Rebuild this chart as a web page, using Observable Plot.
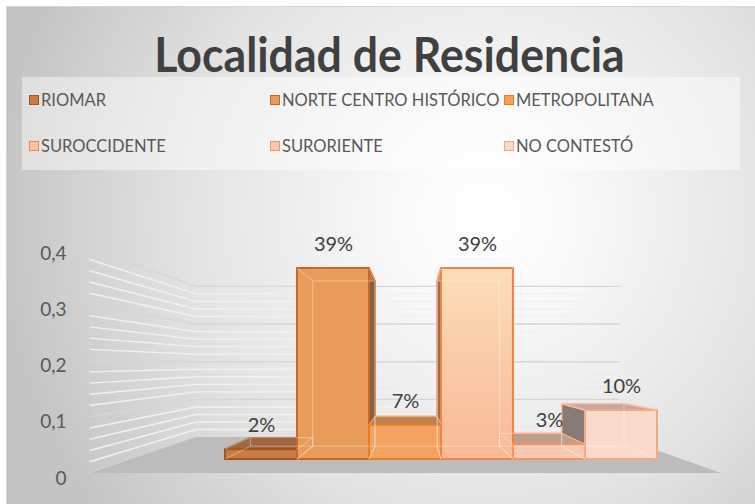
<!DOCTYPE html>
<html><head><meta charset="utf-8">
<script src="https://cdn.jsdelivr.net/npm/d3@7"></script>
<script src="https://cdn.jsdelivr.net/npm/@observablehq/plot@0.6"></script>
<style>
body{margin:0;background:#fff;}
#chart{position:relative;width:755px;height:504px;overflow:hidden;font-family:Lato,"Open Sans",sans-serif;}
#bg{position:absolute;left:6px;top:6px;width:749px;height:498px;background:radial-gradient(circle at 64% 42%,#ffffff 0%,#fafafa 15%,#e2e2e2 55%,#c4c4c4 88%);border-top:1px solid #d6d6d6;border-left:1px solid #d6d6d6;box-sizing:border-box}
#title{position:absolute;left:14px;width:749px;top:26px;text-align:center;font-weight:700;font-size:48px;line-height:56px;color:#404040;transform:scaleX(0.93);transform-origin:389px 0}
#legendbox{position:absolute;left:22px;top:77px;width:718px;height:93px;background:rgba(255,255,255,0.45)}
.item{position:absolute;height:20px;display:flex;align-items:center;font-size:16.5px;color:#595959;white-space:nowrap}
.sw{width:10px;height:10px;box-sizing:border-box;border:1.5px solid;margin-right:2px}
.axisplot text{font-size:19px !important}
</style></head>
<body>
<div id="chart"><div id="bg"></div><div id="title">Localidad de Residencia</div><div id="legendbox"></div></div>
<script>
const categories = ["RIOMAR", "NORTE CENTRO HISTÓRICO", "METROPOLITANA", "SUROCCIDENTE", "SURORIENTE", "NO CONTESTÓ"];
const values = [0.02, 0.39, 0.07, 0.39, 0.03, 0.10];
const labels = ["2%", "39%", "7%", "39%", "3%", "10%"];
const yTicks = [0, 0.1, 0.2, 0.3, 0.4];
const yTickLabels = ["0", "0,1", "0,2", "0,3", "0,4"];
const fills = ["#C97C44", "#E99B5C", "#F4A261", "#F9C6A0", "#F9C8B2", "#FBD9CB"];
const strokes = ["#A0561E", "#C8691F", "#EE7A1E", "#F28440", "#F39263", "#F5A684"];
const frontFills = ["#C97C44", "#E99B5C", "#F4A261", "url(#grad-suroccidente)", "#F9C8B2", "#FBD9CB"];

const data = categories.map((c, i) => ({cat: c, value: values[i], label: labels[i], fill: fills[i], front: frontFills[i], stroke: strokes[i]}));

// legend
const chart = document.getElementById("chart");
const legendCols = [29, 270, 504], legendRows = [100, 146];
categories.forEach((c, i) => {
  const it = document.createElement("div");
  it.className = "item";
  it.style.left = legendCols[i % 3] + "px";
  it.style.top = (legendRows[Math.floor(i / 3)] - 10) + "px";
  const sw = document.createElement("div");
  sw.className = "sw";
  sw.style.background = fills[i];
  sw.style.borderColor = strokes[i];
  it.appendChild(sw);
  it.appendChild(document.createTextNode(c));
  chart.appendChild(it);
});

// perspective helpers (pixel geometry of the 3D look)
const CX = 413, HY = 188, RBB = 0.8647, RFF = 1.1468, RFB = 0.7695;
const P = (x, y, r) => [CX + (x - CX) * r, HY + (y - HY) * r];
const getScales = (args) => args.find(a => a && typeof a.x === "function" && typeof a.y === "function");
const bwOf = (x) => {
  if (typeof x.bandwidth === "function") return x.bandwidth();
  if (typeof x.bandwidth === "number") return x.bandwidth;
  return x(categories[1]) - x(categories[0]);
};
const pstr = (pts) => pts.map(p => p.join(",")).join(" ");
const poly = (g, pts, fill, stroke, sw) => g.append("polygon").attr("points", pstr(pts))
  .attr("fill", fill).attr("stroke", stroke).attr("stroke-width", sw).attr("stroke-linejoin", "round");

function defs() {
  const d = d3.create("svg:defs");
  const lg = d.append("linearGradient").attr("id", "grad-suroccidente").attr("x1", 0).attr("y1", 0).attr("x2", 0).attr("y2", 1);
  lg.append("stop").attr("offset", "0%").attr("stop-color", "#FDDDB9");
  lg.append("stop").attr("offset", "100%").attr("stop-color", "#F8B996");
  return d.node();
}

function walls(...args) {
  const s = getScales(args);
  const g = d3.create("svg:g");
  const bw = bwOf(s.x);
  const xL = s.x(categories[0]) - 1.305 * bw;
  const xR = s.x(categories[categories.length - 1]) + bw * 1.34;
  const minor = d3.range(1, 21).map(i => +(i * 0.02).toFixed(2)).filter(v => !yTicks.some(t => Math.abs(t - v) < 1e-9));
  const line = (v, col) => {
    const y = s.y(v);
    g.append("polyline").attr("points", pstr([P(xL, y, RFF), P(xL, y, RFB), P(xR, y, RFB)]))
      .attr("fill", "none").attr("stroke", col).attr("stroke-width", 1.4);
  };
  minor.forEach(v => line(v, "#f1f1f1"));
  yTicks.forEach(v => line(v, "#d6d6d6"));
  const y0 = s.y(0);
  poly(g, [P(xL, y0, RFF), P(xR, y0, RFF), P(xR, y0, RFB), P(xL, y0, RFB)], "#bcbcbc", "none", 0);
  return g.node();
}

function decor(...args) {
  const s = getScales(args);
  const g = d3.create("svg:g");
  const bw = bwOf(s.x);
  const order = data.map((d, i) => i).sort((a, b) => Math.abs(s.x(categories[b]) + bw / 2 - CX) - Math.abs(s.x(categories[a]) + bw / 2 - CX));
  order.forEach(i => {
    const d = data[i];
    const xl = s.x(d.cat), xr = xl + bw, yt = s.y(d.value), yb = s.y(0);
    const top = d3.interpolateRgb(d.fill, "#3b3b3b")(0.3);
    const side = d3.interpolateRgb(d.fill, "#3b3b3b")(0.6);
    poly(g, [P(xl, yt, RBB), P(xr, yt, RBB), P(xr, yb, RBB), P(xl, yb, RBB)], d.fill, d.stroke, 1);
    const xs = (xl + bw / 2 < CX) ? xr : xl;
    poly(g, [P(xs, yt, 1), P(xs, yt, RBB), P(xs, yb, RBB), P(xs, yb, 1)], side, d.stroke, 1.5);
    poly(g, [P(xl, yt, 1), P(xr, yt, 1), P(xr, yt, RBB), P(xl, yt, RBB)], top, d.stroke, 1.5);
  });
  return g.node();
}

function inner(...args) {
  const s = getScales(args);
  const g = d3.create("svg:g").attr("stroke", "#ffffff").attr("stroke-opacity", 0.35).attr("fill", "none").attr("stroke-width", 1);
  const bw = bwOf(s.x);
  data.forEach(d => {
    const xl = s.x(d.cat), xr = xl + bw, yt = s.y(d.value), yb = s.y(0);
    const back = [P(xl, yt, RBB), P(xr, yt, RBB), P(xr, yb, RBB), P(xl, yb, RBB)];
    const front = [[xl, yt], [xr, yt], [xr, yb], [xl, yb]];
    g.append("polygon").attr("points", pstr(back));
    front.forEach((p, k) => g.append("line").attr("x1", p[0]).attr("y1", p[1]).attr("x2", back[k][0]).attr("y2", back[k][1]));
  });
  return g.node();
}

const font = "Lato, 'Open Sans', sans-serif";
const main = Plot.plot({
  width: 755, height: 322, margin: 0,
  style: {background: "transparent", overflow: "visible", fontFamily: font},
  x: {type: "band", domain: categories, range: [224, 658], padding: 0, axis: null},
  y: {domain: [0, 0.4], range: [283, 87.1], axis: null},
  color: {type: "identity"},
  marks: [
    defs,
    walls,
    decor,
    Plot.barY(data, {x: "cat", y: "value", fill: "front", stroke: "stroke", strokeWidth: 2}),
    inner,
    Plot.text(data, {x: "cat", y: "value", text: "label", dy: -24, fontSize: 20, fill: "#404040"})
  ]
});
main.style.position = "absolute"; main.style.left = "0px"; main.style.top = "176px";
chart.appendChild(main);

const axisPlot = Plot.plot({
  width: 755, height: 322, marginLeft: 72, marginTop: 0, marginBottom: 0, marginRight: 0,
  style: {background: "transparent", overflow: "visible", fontSize: "19px", color: "#595959", fontFamily: font},
  y: {domain: [0, 0.4], range: [302, 77.3], ticks: yTicks, tickSize: 0, tickPadding: 6,
      tickFormat: d => { const k = yTicks.findIndex(t => Math.abs(t - d) < 1e-9); return k >= 0 ? yTickLabels[k] : ""; }, label: null},
  marks: [Plot.ruleY(yTicks, {strokeOpacity: 0})]
});
axisPlot.classList.add("axisplot");
axisPlot.style.position = "absolute"; axisPlot.style.left = "0px"; axisPlot.style.top = "176px";
chart.appendChild(axisPlot);
</script>
</body></html>
